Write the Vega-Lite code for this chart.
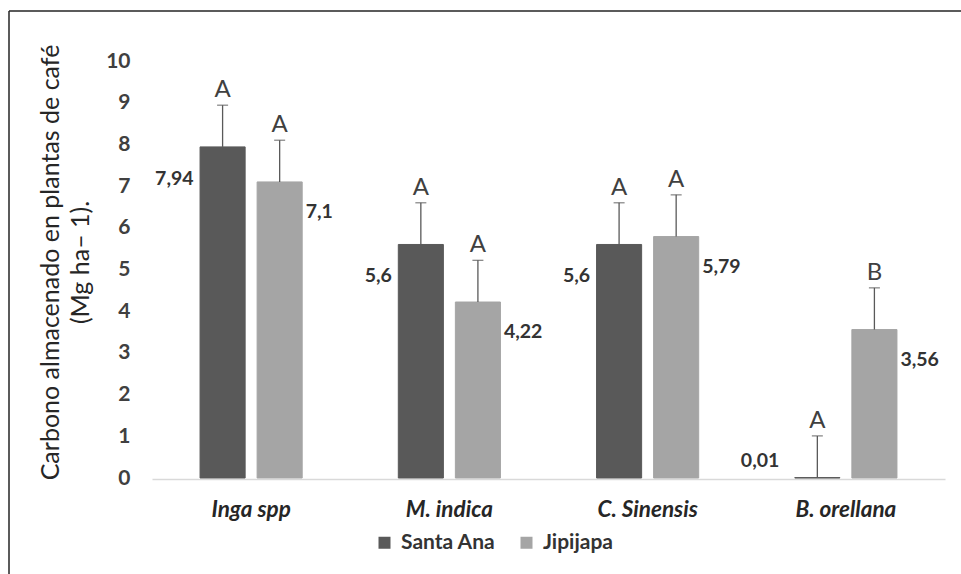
{
  "$schema": "https://vega.github.io/schema/vega-lite/v6.json",
  "width": 952,
  "height": 563,
  "autosize": {"type": "none"},
  "padding": {"left": 9, "top": 11, "right": 0, "bottom": 0},
  "background": "white",
  "config": {
    "view": {"stroke": "#262626", "strokeWidth": 1.5, "strokeDash": [952, 1515, 563, 0]},
    "font": "Lato"
  },
  "data": {
    "values": [
      {"especie": "Inga spp", "sitio": "Santa Ana", "valor": 7.94, "superior": 8.94, "letra": "A", "etiqueta": "7,94"},
      {"especie": "Inga spp", "sitio": "Jipijapa", "valor": 7.1, "superior": 8.1, "letra": "A", "etiqueta": "7,1"},
      {"especie": "M. indica", "sitio": "Santa Ana", "valor": 5.6, "superior": 6.6, "letra": "A", "etiqueta": "5,6"},
      {"especie": "M. indica", "sitio": "Jipijapa", "valor": 4.22, "superior": 5.22, "letra": "A", "etiqueta": "4,22"},
      {"especie": "C. Sinensis", "sitio": "Santa Ana", "valor": 5.6, "superior": 6.6, "letra": "A", "etiqueta": "5,6"},
      {"especie": "C. Sinensis", "sitio": "Jipijapa", "valor": 5.79, "superior": 6.79, "letra": "A", "etiqueta": "5,79"},
      {"especie": "B. orellana", "sitio": "Santa Ana", "valor": 0.01, "superior": 1.01, "letra": "A", "etiqueta": "0,01"},
      {"especie": "B. orellana", "sitio": "Jipijapa", "valor": 3.56, "superior": 4.56, "letra": "B", "etiqueta": "3,56"}
    ]
  },
  "encoding": {
    "x": {
      "field": "especie",
      "type": "nominal",
      "sort": ["Inga spp", "M. indica", "C. Sinensis", "B. orellana"],
      "scale": {"range": [143, 936], "paddingInner": 0, "paddingOuter": 0},
      "axis": {
        "orient": "bottom",
        "offset": -95,
        "title": null,
        "domainColor": "#d9d9d9",
        "domainWidth": 1.5,
        "ticks": false,
        "tickSize": 0,
        "labelPadding": 19,
        "labelAngle": 0,
        "labelFontSize": 22.5,
        "labelFontWeight": "bold",
        "labelFontStyle": "italic",
        "labelColor": "#262626"
      }
    },
    "xOffset": {
      "field": "sitio",
      "type": "nominal",
      "sort": ["Santa Ana", "Jipijapa"],
      "scale": {"paddingInner": 0.21, "paddingOuter": 0.842}
    }
  },
  "layer": [
    {
      "mark": {"type": "bar", "strokeWidth": 1},
      "encoding": {
        "y": {
          "field": "valor",
          "type": "quantitative",
          "scale": {"domain": [0, 10], "range": [467, 50], "nice": false},
          "axis": {
            "orient": "left",
            "offset": -121,
            "values": [0, 1, 2, 3, 4, 5, 6, 7, 8, 9, 10],
            "format": "d",
            "domain": false,
            "ticks": false,
            "tickSize": 0,
            "grid": false,
            "labelPadding": 0,
            "labelFontSize": 21,
            "labelFontWeight": "bold",
            "labelColor": "#404040",
            "title": ["Carbono almacenado en plantas de café", "(Mg ha– 1)."],
            "titleAngle": -90,
            "titleX": -80,
            "titleY": 251,
            "titleAlign": "center",
            "titleBaseline": "middle",
            "titleFontSize": 25,
            "titleFontWeight": "normal",
            "titleLineHeight": 30,
            "titleColor": "#262626"
          }
        },
        "color": {
          "field": "sitio",
          "type": "nominal",
          "sort": ["Santa Ana", "Jipijapa"],
          "scale": {"domain": ["Santa Ana", "Jipijapa"], "range": ["#595959", "#a5a5a5"]},
          "legend": {
            "orient": "none",
            "legendX": 365,
            "legendY": 521,
            "direction": "horizontal",
            "title": null,
            "symbolType": "square",
            "symbolSize": 144,
            "symbolStrokeWidth": 0,
            "labelFontSize": 21,
            "labelFontWeight": "bold",
            "labelColor": "#333333",
            "labelOffset": 6,
            "columnPadding": 20
          }
        },
        "stroke": {
          "field": "sitio",
          "type": "nominal",
          "scale": {"domain": ["Santa Ana", "Jipijapa"], "range": ["#595959", "#a5a5a5"]},
          "legend": null
        }
      }
    },
    {
      "mark": {"type": "rule", "color": "#595959", "strokeWidth": 1.3},
      "encoding": {
        "y": {"field": "valor", "type": "quantitative"},
        "y2": {"field": "superior"}
      }
    },
    {
      "mark": {"type": "tick", "color": "#595959", "size": 11, "thickness": 1.3},
      "encoding": {
        "y": {"field": "superior", "type": "quantitative"}
      }
    },
    {
      "mark": {"type": "text", "baseline": "alphabetic", "dy": -8, "fontSize": 24, "color": "#404040"},
      "encoding": {
        "y": {"field": "superior", "type": "quantitative"},
        "text": {"field": "letra"}
      }
    },
    {
      "transform": [{"filter": "datum.sitio === 'Santa Ana' && datum.valor > 0.5"}],
      "mark": {"type": "text", "align": "right", "baseline": "middle", "dx": -29, "dy": 32, "fontSize": 19.5, "fontWeight": "bold", "color": "#333333"},
      "encoding": {
        "y": {"field": "valor", "type": "quantitative"},
        "text": {"field": "etiqueta"}
      }
    },
    {
      "transform": [{"filter": "datum.sitio === 'Jipijapa'"}],
      "mark": {"type": "text", "align": "left", "baseline": "middle", "dx": 26, "dy": 30, "fontSize": 19.5, "fontWeight": "bold", "color": "#333333"},
      "encoding": {
        "y": {"field": "valor", "type": "quantitative"},
        "text": {"field": "etiqueta"}
      }
    },
    {
      "transform": [{"filter": "datum.sitio === 'Santa Ana' && datum.valor <= 0.5"}],
      "mark": {"type": "text", "align": "right", "baseline": "middle", "dx": -38, "dy": -17, "fontSize": 19.5, "fontWeight": "bold", "color": "#333333"},
      "encoding": {
        "y": {"field": "valor", "type": "quantitative"},
        "text": {"field": "etiqueta"}
      }
    }
  ]
}
